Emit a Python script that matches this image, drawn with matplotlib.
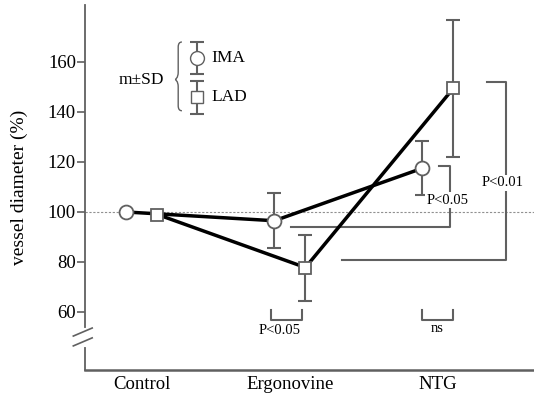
import numpy as np
import matplotlib.pyplot as plt
from matplotlib.path import Path
from matplotlib.patches import PathPatch


plt.rcParams['font.family'] = ['Liberation Serif', 'DejaVu Serif']
plt.rcParams['font.size'] = 13

# data
categories = ['Control', 'Ergonovine', 'NTG']
ima_mean = [100.0, 96.5, 117.5]
ima_sd = [0.0, 11.0, 10.8]
lad_mean = [99.0, 77.8, 149.5]
lad_sd = [0.0, 13.2, 27.5]
yticks = [60, 80, 100, 120, 140, 160]

grey = '#606060'
off = 0.105

fig = plt.figure(figsize=(5.34, 3.95), dpi=100)
ax = fig.add_axes([85/534, 25/395, 449/534, 365/395])
ax.set_xlim(-0.385, 2.65)
ax.set_ylim(36.8, 182.8)

x = np.arange(len(categories))

ax.axhline(100, color='#909090', linestyle=(0, (2, 1.5)), linewidth=0.8, zorder=1)

# error bars
ax.errorbar(x[1:] - off, ima_mean[1:], yerr=ima_sd[1:], fmt='none', ecolor=grey,
            elinewidth=1.5, capsize=5, capthick=1.5, zorder=2)
ax.errorbar(x[1:] + off, lad_mean[1:], yerr=lad_sd[1:], fmt='none', ecolor=grey,
            elinewidth=1.5, capsize=5, capthick=1.5, zorder=2)

# lines + markers
ax.plot(x - off, ima_mean, color='black', linewidth=2.5, zorder=3)
ax.plot(x + off, lad_mean, color='black', linewidth=2.5, zorder=3)
ax.plot(x - off, ima_mean, 'o', markersize=10, markerfacecolor='white',
        markeredgecolor=grey, markeredgewidth=1.3, zorder=4)
ax.plot(x + off, lad_mean, 's', markersize=9, markerfacecolor='white',
        markeredgecolor=grey, markeredgewidth=1.3, zorder=4)

# significance brackets
bk = dict(color=grey, linewidth=1.5, zorder=1)
pbox = dict(facecolor='white', edgecolor='none', pad=1)
ax.plot([2.01, 2.085, 2.085, 1.01], [118.4, 118.4, 94.0, 94.0], **bk)
ax.text(2.064, 104.8, 'P<0.05', fontsize=10.5, ha='center', va='center', bbox=pbox, zorder=2)
ax.plot([2.33, 2.46, 2.46, 1.35], [152.0, 152.0, 80.8, 80.8], **bk)
ax.text(2.436, 111.6, 'P<0.01', fontsize=10.5, ha='center', va='center', bbox=pbox, zorder=2)
ax.plot([0.87, 0.87, 1.08, 1.08], [60.8, 56.8, 56.8, 60.8], **bk)
ax.text(0.93, 52.5, 'P<0.05', fontsize=10.5, ha='center', va='center')
ax.plot([1.89, 1.89, 2.10, 2.10], [60.8, 56.8, 56.8, 60.8], **bk)
ax.text(1.995, 53.5, 'ns', fontsize=10.5, ha='center', va='center')

# legend drawn by hand
lx = 0.372
ax.errorbar([lx], [161.6], yerr=[6.4], fmt='o', markersize=10, markerfacecolor='white',
            markeredgecolor=grey, ecolor=grey, elinewidth=1.5, capsize=5, capthick=1.5)
ax.errorbar([lx], [146.0], yerr=[6.6], fmt='s', markersize=9, markerfacecolor='white',
            markeredgecolor=grey, ecolor=grey, elinewidth=1.5, capsize=5, capthick=1.5)
ax.text(lx + 0.1, 161.6, 'IMA', fontsize=12.5, va='center')
ax.text(lx + 0.1, 146.0, 'LAD', fontsize=12.5, va='center')
ax.text(-0.155, 153.0, 'm\u00b1SD', fontsize=12.5, va='center')

# curly brace
bx0, bx1 = 0.225, 0.27
ytop, ymid, ybot = 168.0, 153.0, 140.5
verts = [(bx1, ytop), (bx0 + 0.02, ytop), (bx0 + 0.02, ytop - 2), (bx0 + 0.02, ymid + 3),
         (bx0 + 0.02, ymid + 0.5), (bx0, ymid), (bx0, ymid),
         (bx0, ymid), (bx0 + 0.02, ymid - 0.5), (bx0 + 0.02, ymid - 3),
         (bx0 + 0.02, ybot + 2), (bx0 + 0.02, ybot), (bx1, ybot)]
codes = [Path.MOVETO, Path.CURVE3, Path.CURVE3, Path.LINETO,
         Path.CURVE4, Path.CURVE4, Path.CURVE4,
         Path.CURVE4, Path.CURVE4, Path.CURVE4,
         Path.LINETO, Path.CURVE3, Path.CURVE3]
ax.add_patch(PathPatch(Path(verts, codes), facecolor='none', edgecolor=grey, linewidth=1.0))

# axes styling
for s in ['top', 'right']:
    ax.spines[s].set_visible(False)
ax.spines['left'].set_color(grey)
ax.spines['bottom'].set_color(grey)
ax.spines['left'].set_linewidth(1.3)
ax.spines['bottom'].set_linewidth(1.8)
ax.set_yticks(yticks)
ax.tick_params(axis='y', direction='out', length=5.5, width=1.2, color=grey, labelsize=13.5, pad=1)
ax.set_xticks(x)
ax.set_xticklabels(categories)
ax.tick_params(axis='x', length=0, labelsize=13.5, pad=4)
ax.set_ylabel('vessel diameter (%)', fontsize=14)
ax.yaxis.set_label_coords(-0.128, 0.5)

# axis break on the y spine
tr = ax.transAxes
ax.plot([-0.002, -0.002], [0.068, 0.11], color='white', linewidth=3, transform=tr,
        clip_on=False, zorder=5)
ax.plot([-0.026, 0.016], [0.066, 0.088], color=grey, linewidth=1.2, transform=tr,
        clip_on=False, zorder=6)
ax.plot([-0.026, 0.016], [0.093, 0.115], color=grey, linewidth=1.2, transform=tr,
        clip_on=False, zorder=6)

fig.savefig('out.png', dpi=100)
